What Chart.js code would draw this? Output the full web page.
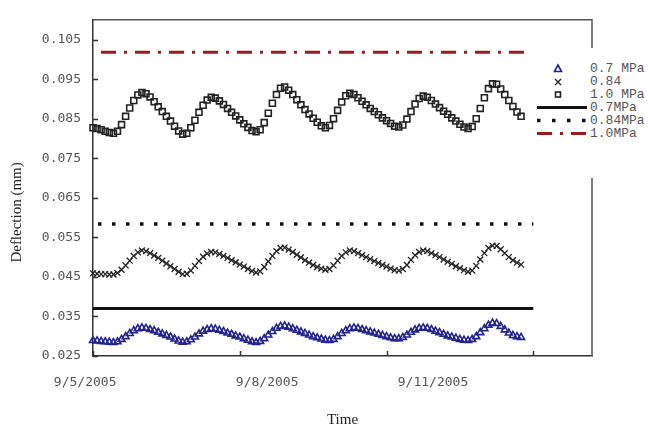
<!DOCTYPE html>
<html>
<head>
<meta charset="utf-8">
<script src="https://cdn.jsdelivr.net/npm/chart.js@4.4.1/dist/chart.umd.min.js"></script>
<style>
  body { margin: 0; background: #fff; }
  #wrap { position: relative; width: 648px; height: 430px; }
  .legend { position: absolute; left: 530px; top: 48px; width: 118px; height: 130px; background: #fff;
            font: 13px "Liberation Mono", monospace; color: #555; }
  .legend .row { position: absolute; left: 0; width: 118px; height: 13px; line-height: 13px; white-space: nowrap; }
  .legend svg { position: absolute; left: 6px; top: 0; }
  .legend span { position: absolute; left: 60px; top: 0; }
</style>
</head>
<body>
<div id="wrap">
  <canvas id="chart" width="648" height="430"></canvas>
  <div class="legend" id="legend"></div>
</div>
<script>
// Deflection readings, one every 2 hours from 9/5/2005 0:00
const sampleHours = 2;

const defl07 = [
  0.0289, 0.0288, 0.0287, 0.0286, 0.0285, 0.0284,
  0.0286, 0.0292, 0.0299, 0.0307, 0.0314, 0.0319, 0.0321, 0.0320,
  0.0317, 0.0314, 0.0310, 0.0306, 0.0302, 0.0298, 0.0293, 0.0288, 0.0285, 0.0286,
  0.0291, 0.0298, 0.0306, 0.0313, 0.0317, 0.0319, 0.0318,
  0.0315, 0.0312, 0.0308, 0.0305, 0.0301, 0.0298, 0.0294, 0.0290, 0.0286, 0.0284, 0.0287,
  0.0294, 0.0303, 0.0312, 0.0320, 0.0325, 0.0326, 0.0323,
  0.0319, 0.0315, 0.0311, 0.0307, 0.0303, 0.0299, 0.0296, 0.0293, 0.0290, 0.0289, 0.0292,
  0.0299, 0.0307, 0.0314, 0.0319, 0.0321, 0.0320,
  0.0317, 0.0314, 0.0311, 0.0308, 0.0305, 0.0302, 0.0299, 0.0296, 0.0294, 0.0294, 0.0297,
  0.0303, 0.0310, 0.0316, 0.0320, 0.0321, 0.0320,
  0.0317, 0.0313, 0.0309, 0.0305, 0.0301, 0.0298, 0.0295, 0.0292, 0.0290, 0.0289, 0.0292,
  0.0299, 0.0309, 0.0319, 0.0328, 0.0333, 0.0332,
  0.0325, 0.0316, 0.0308, 0.0302, 0.0299, 0.0297
];

const defl084 = [
  0.0459, 0.0458, 0.0457, 0.0457, 0.0456, 0.0456,
  0.0460, 0.0468, 0.0479, 0.0491, 0.0503, 0.0512, 0.0517, 0.0515,
  0.0510, 0.0504, 0.0498, 0.0491, 0.0484, 0.0477, 0.0470, 0.0463, 0.0457, 0.0458,
  0.0466, 0.0478, 0.0490, 0.0501, 0.0509, 0.0513, 0.0512,
  0.0508, 0.0503, 0.0498, 0.0492, 0.0487, 0.0481, 0.0476, 0.0470, 0.0465, 0.0461, 0.0464,
  0.0475, 0.0489, 0.0503, 0.0515, 0.0523, 0.0524, 0.0519,
  0.0513, 0.0506, 0.0499, 0.0492, 0.0486, 0.0480, 0.0475, 0.0471, 0.0468, 0.0470,
  0.0479, 0.0491, 0.0503, 0.0512, 0.0517, 0.0515,
  0.0510, 0.0505, 0.0500, 0.0495, 0.0490, 0.0485, 0.0480, 0.0476, 0.0471, 0.0467, 0.0466, 0.0470,
  0.0480, 0.0493, 0.0505, 0.0513, 0.0517, 0.0515,
  0.0510, 0.0505, 0.0500, 0.0494, 0.0488, 0.0483, 0.0477, 0.0472, 0.0467, 0.0463, 0.0466,
  0.0478, 0.0494, 0.0510, 0.0523, 0.0529, 0.0528,
  0.0520, 0.0510, 0.0500, 0.0492, 0.0486, 0.0481
];

const defl10 = [
  0.0827, 0.0825, 0.0822, 0.0818, 0.0815, 0.0813,
  0.0818, 0.0835, 0.0856, 0.0877, 0.0896, 0.0910, 0.0916, 0.0913,
  0.0905, 0.0893, 0.0880, 0.0868, 0.0856, 0.0844, 0.0831, 0.0819, 0.0811, 0.0813,
  0.0827, 0.0846, 0.0866, 0.0884, 0.0897, 0.0904, 0.0902,
  0.0895, 0.0886, 0.0876, 0.0866, 0.0857, 0.0847, 0.0837, 0.0828, 0.0820, 0.0817, 0.0822,
  0.0840, 0.0864, 0.0889, 0.0911, 0.0927, 0.0930, 0.0922,
  0.0911, 0.0898, 0.0885, 0.0873, 0.0862, 0.0851, 0.0841, 0.0832, 0.0827, 0.0833,
  0.0850, 0.0871, 0.0892, 0.0908, 0.0914, 0.0911,
  0.0903, 0.0894, 0.0885, 0.0876, 0.0868, 0.0860, 0.0852, 0.0845, 0.0838, 0.0831, 0.0829, 0.0834,
  0.0849, 0.0868, 0.0887, 0.0901, 0.0907, 0.0904,
  0.0896, 0.0887, 0.0878, 0.0869, 0.0861, 0.0852, 0.0844, 0.0836, 0.0829, 0.0825, 0.0830,
  0.0850, 0.0876, 0.0903, 0.0926, 0.0938, 0.0937,
  0.0925, 0.0911, 0.0896, 0.0881, 0.0867, 0.0856
];

// Predicted (constant) deflections and the days they span
const limit07 = 0.0370;
const limit084 = 0.0584;
const limit10 = 0.1018;
const limitSpan = [0, 9];

// Axes: x in days since 9/5/2005
const xTickDays = [0, 3, 6, 9];
const xTickLabels = ['9/5/2005', '9/8/2005', '9/11/2005'];
const yTicks = [0.025, 0.035, 0.045, 0.055, 0.065, 0.075, 0.085, 0.095, 0.105];
const yTitle = 'Deflection (mm)';

// where the date labels sit (they are not centred on the ticks in the original)
const xLabelCenters = [-0.16, 3.56, 6.95];
// the y title sits a little below the middle of the axis
const yTitleAt = 0.0613;

const toPoints = values => values.map((v, i) => ({ x: i * sampleHours / 24, y: v }));

const markerSet = (label, values, style, color, radius, width) => ({
  label,
  data: toPoints(values),
  showLine: false,
  pointStyle: style,
  pointRadius: radius,
  pointBorderColor: color,
  pointBackgroundColor: 'rgba(0,0,0,0)',
  pointBorderWidth: width,
  clip: false
});

const limitLine = (label, value, color, width, dash, dashOffset) => ({
  label,
  data: limitSpan.map(d => ({ x: d, y: value })),
  showLine: true,
  borderColor: color,
  borderWidth: width,
  borderDash: dash,
  borderDashOffset: dashOffset,
  borderCapStyle: 'butt',
  pointRadius: 0
});

const blue = '#23238f';
const darkRed = '#9e1a1a';

const axisDecor = {
  id: 'axisDecor',
  afterDraw(chart) {
    const { ctx, chartArea: a, scales: { x, y } } = chart;
    ctx.save();
    ctx.lineWidth = 1.5;
    ctx.strokeStyle = '#555';
    ctx.beginPath();
    ctx.moveTo(a.left, a.top);
    ctx.lineTo(a.right, a.top);
    ctx.lineTo(a.right, a.bottom);
    ctx.stroke();
    ctx.strokeStyle = '#333';
    ctx.beginPath();
    xTickDays.forEach(d => {
      const px = Math.round(x.getPixelForValue(d)) + 0.5;
      ctx.moveTo(px, a.bottom);
      ctx.lineTo(px, a.bottom - 5);
    });
    yTicks.forEach(v => {
      const py = Math.round(y.getPixelForValue(v)) + 0.5;
      ctx.moveTo(a.left, py);
      ctx.lineTo(a.left + 5, py);
    });
    ctx.stroke();

    // y axis title
    ctx.translate(17, y.getPixelForValue(yTitleAt));
    ctx.rotate(-Math.PI / 2);
    ctx.fillStyle = '#222';
    ctx.font = '15px "Liberation Serif", serif';
    ctx.textAlign = 'center';
    ctx.textBaseline = 'middle';
    ctx.fillText(yTitle, 0, 0);
    ctx.restore();
  }
};

Chart.defaults.font.family = '"DejaVu Sans Mono", monospace';
Chart.defaults.font.size = 13;
Chart.defaults.color = '#555';

new Chart(document.getElementById('chart'), {
  type: 'scatter',
  data: {
    datasets: [
      markerSet('0.7 MPa', defl07, 'triangle', blue, 4, 1.6),
      markerSet('0.84', defl084, 'crossRot', '#222', 4.2, 1.3),
      markerSet('1.0 MPa', defl10, 'rect', '#222', 4.2, 1.6),
      limitLine('0.7MPa', limit07, '#111', 3, [], 0),
      limitLine('0.84MPa', limit084, '#111', 3.5, [3.5, 10.5], 9),
      limitLine('1.0MPa', limit10, darkRed, 3, [15, 8, 3, 8], 26)
    ]
  },
  options: {
    responsive: false,
    animation: false,
    layout: { padding: { top: 9, right: 56, left: 0, bottom: 0 } },
    plugins: { legend: { display: false }, tooltip: { enabled: false } },
    scales: {
      x: {
        type: 'linear',
        min: 0,
        max: 10.2,
        grid: { display: false, drawTicks: false },
        border: { display: true, color: '#333', width: 1.5 },
        afterBuildTicks: scale => { scale.ticks = xLabelCenters.map(v => ({ value: v })); },
        afterFit: scale => { scale.height = 74; },
        ticks: {
          padding: 19,
          maxRotation: 0,
          autoSkip: false,
          callback: (value, index) => xTickLabels[index]
        },
        title: {
          display: true,
          text: 'Time',
          color: '#222',
          font: { family: '"Liberation Serif", serif', size: 15 },
          padding: { top: 0, bottom: 1 }
        }
      },
      y: {
        min: 0.025,
        max: 0.11,
        grid: { display: false, drawTicks: false },
        border: { display: true, color: '#333', width: 1.5 },
        afterBuildTicks: scale => { scale.ticks = yTicks.map(v => ({ value: v })); },
        afterFit: scale => { scale.width = 93; },
        ticks: {
          padding: 12,
          autoSkip: false,
          callback: value => value.toFixed(3)
        }
      }
    }
  },
  plugins: [axisDecor]
});

// Legend drawn as html so it can sit over the frame like the original
const legendItems = [
  { text: '0.7 MPa', svg: `<polygon points="22,3 25.5,9.5 18.5,9.5" fill="none" stroke="${blue}" stroke-width="1.6"/>` },
  { text: '0.84', svg: '<path d="M19,4 L25,10 M25,4 L19,10" stroke="#222" stroke-width="1.3"/>' },
  { text: '1.0 MPa', svg: '<rect x="19.5" y="4" width="5" height="5" fill="none" stroke="#222" stroke-width="1.6"/>' },
  { text: '0.7MPa', svg: '<line x1="1" y1="6.5" x2="51" y2="6.5" stroke="#111" stroke-width="3"/>' },
  { text: '0.84MPa', svg: '<line x1="1" y1="6.5" x2="51" y2="6.5" stroke="#111" stroke-width="3.5" stroke-dasharray="3.5 11.5"/>' },
  { text: '1.0MPa', svg: `<line x1="1" y1="6.5" x2="51" y2="6.5" stroke="${darkRed}" stroke-width="3" stroke-dasharray="15 8 3 8"/>` }
];

const legend = document.getElementById('legend');
legendItems.forEach((item, i) => {
  const row = document.createElement('div');
  row.className = 'row';
  row.style.top = (14 + i * 13) + 'px';
  row.innerHTML = `<svg width="52" height="13">${item.svg}</svg><span>${item.text}</span>`;
  legend.appendChild(row);
});
</script>
</body>
</html>
